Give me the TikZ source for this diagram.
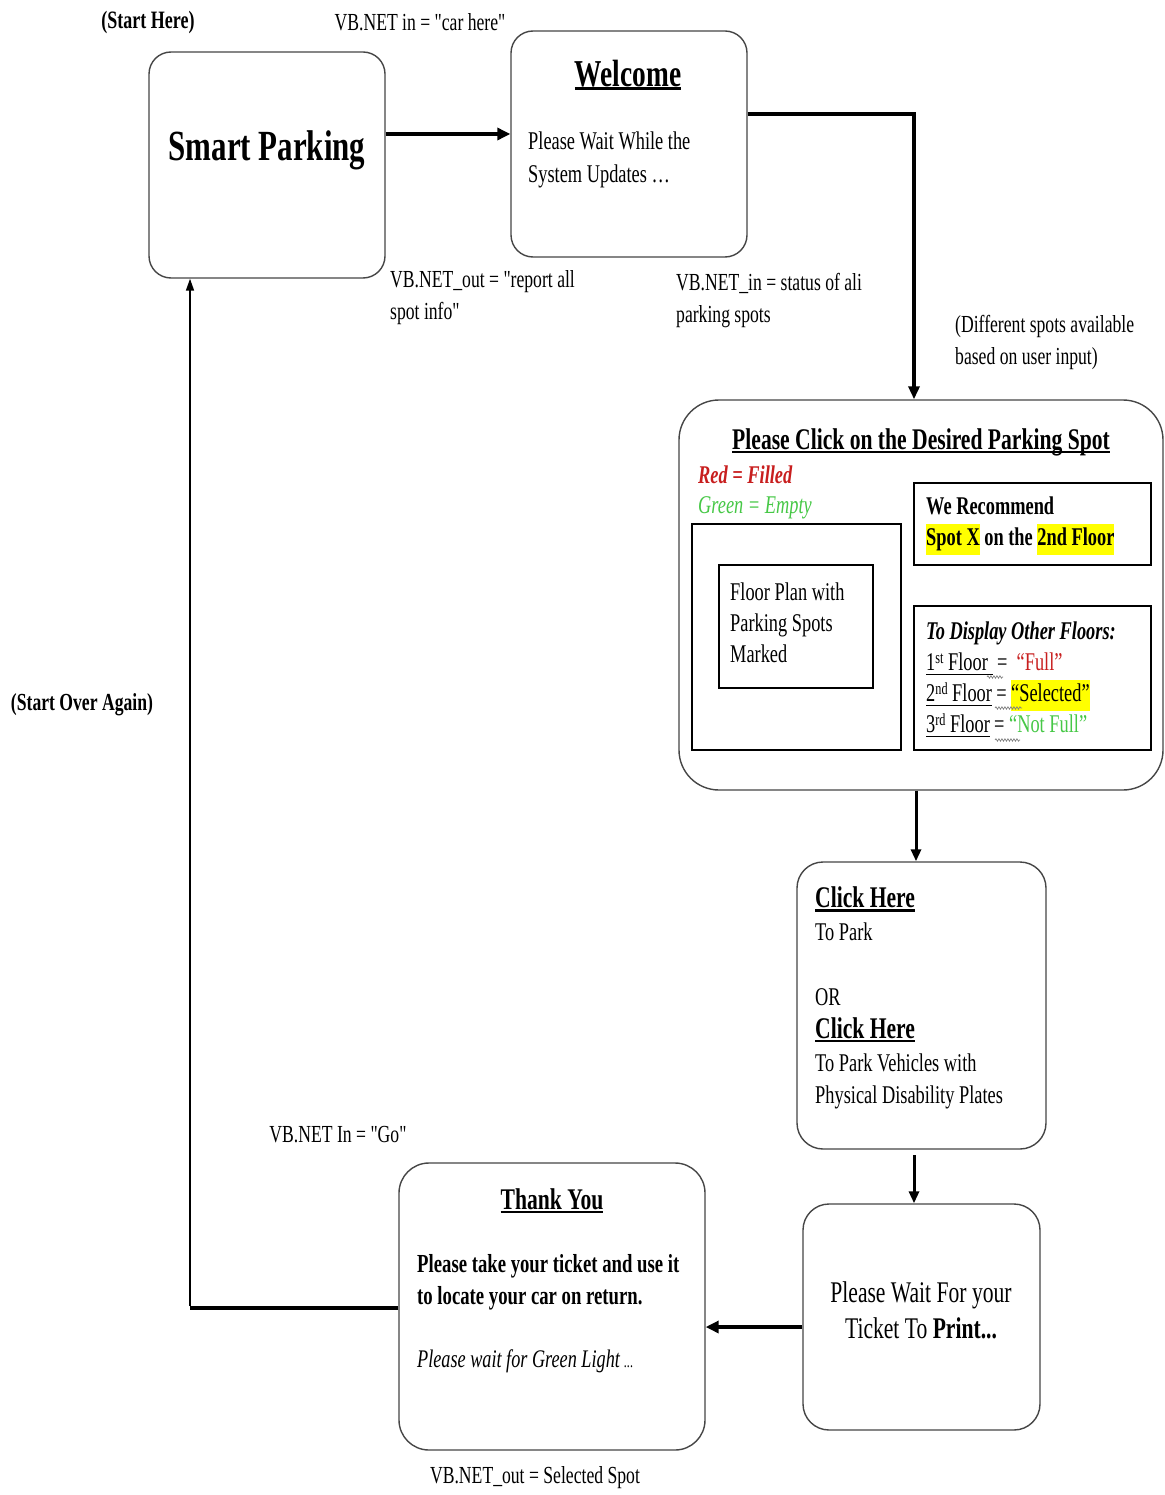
\documentclass[tikz,border=0pt]{standalone}
\usepackage{fontspec}
\setmainfont{Liberation Serif}[FakeStretch=0.72, Ligatures=TeXOff]
\usetikzlibrary{arrows.meta,decorations.pathmorphing}
\definecolor{boxgray}{RGB}{70,70,70}
\definecolor{redtxt}{RGB}{200,30,30}
\definecolor{greentxt}{RGB}{70,200,70}
\definecolor{hl}{RGB}{255,255,0}
\newcommand{\fs}[2]{\fontsize{#1}{#2}\selectfont}
\newcommand{\hlt}[1]{{\setlength{\fboxsep}{0pt}\colorbox{hl}{\strut #1}}}
\newcommand{\myul}[2][2pt]{\setbox0\hbox{#2}\rlap{\rule[-4pt]{\wd0}{#1}}\box0}
\begin{document}
\begin{tikzpicture}[x=1pt,y=-1pt,
  box/.style={draw=boxgray, line width=1.4pt, rounded corners=#1, inner sep=0pt},
  box/.default=22pt,
  rect/.style={draw=black, line width=1.2pt, inner sep=0pt},
  lbl/.style={font=\fs{24.5}{32}, align=left, inner sep=0pt},
  body/.style={font=\fs{25.5}{31}, align=left, inner sep=0pt},
  heavy/.style={line width=4pt, -{Triangle[length=13pt,width=12pt]}},
  medium/.style={line width=3pt, -{Triangle[length=12pt,width=10pt]}},
  light/.style={line width=1.6pt, -{Triangle[length=12pt,width=8pt]}},
  squiggle/.style={draw=gray, line width=0.7pt, decorate, decoration={snake, amplitude=1.2pt, segment length=3pt}}]
\useasboundingbox (0,0) rectangle (1164,1495);
\fill[white] (0,0) rectangle (1164,1495);

% boxes
\node[box] (sp) at (267,165) [minimum width=236pt, minimum height=226pt] {};
\node[box] (wel) at (629,144) [minimum width=236pt, minimum height=226pt] {};
\node[box=40pt] (big) at (921,595) [minimum width=484pt, minimum height=390pt] {};
\node[box=26pt] (click) at (921.5,1005.5) [minimum width=249pt, minimum height=287pt] {};
\node[box=26pt] (wait) at (921.5,1317) [minimum width=237pt, minimum height=226pt] {};
\node[box=30pt] (thank) at (552,1306.5) [minimum width=306pt, minimum height=287pt] {};

% inner rectangles
\node[rect] (plan) at (796.5,637) [minimum width=209pt, minimum height=226pt] {};
\node[rect] (fp) at (796,626.5) [minimum width=154pt, minimum height=123pt] {};
\node[rect] (rec) at (1032.5,524) [minimum width=237pt, minimum height=82pt] {};
\node[rect] (floors) at (1032.5,678) [minimum width=237pt, minimum height=144pt] {};

% texts
\node[lbl, font=\fs{25}{32}\bfseries] (starthere) at (148,22) {(Start Here)};
\node[lbl] (carhere) at (420,22) {VB.NET in = "car here"};
\node[inner sep=0pt, font=\fs{43}{50}\bfseries] (sptxt) at (267,150) {Smart Parking};
\node[inner sep=0pt, font=\fs{38}{44}\bfseries] (weltitle) at (628,75) {\myul[3pt]{Welcome}};
\node[body, anchor=west] (weltxt) at (528,160) {Please Wait While the\\[1.5pt]System Updates \dots};
\node[lbl, anchor=west] (report) at (390,298) {VB.NET\_out = "report all\\spot info"};
\node[lbl, anchor=west] (status) at (676,301) {VB.NET\_in = status of ali\\parking spots};
\node[lbl, anchor=west] (different) at (955,342) {(Different spots available\\based on user input)};

\node[inner sep=0pt, font=\fs{30}{36}\bfseries] (bigtitle) at (921,442) {\myul[2.5pt]{Please Click on the Desired Parking Spot}};
\node[body, anchor=west, text=redtxt, font=\fs{25.5}{31}\bfseries\itshape] (redf) at (698,475) {Red = Filled};
\node[body, anchor=west, text=greentxt, font=\fs{25.5}{31}\itshape] (greene) at (698,508) {Green = Empty};
\node[body, anchor=west] (fptxt) at (730,623) {Floor Plan with\\Parking Spots\\Marked};
\node[body, anchor=west, font=\fs{25.5}{31}\bfseries] (rectxt) at (926,525.5) {We Recommend\\\hlt{Spot X} on the \hlt{2nd Floor}};
\node[body, anchor=west] (floorstxt) at (926,679.5) {{\bfseries\itshape To Display Other Floors:}\\
\myul[1pt]{1{\fs{17}{17}\raisebox{7pt}{st}} Floor\ }\ =\ \ \textcolor{redtxt}{“Full”}\\
\myul[1pt]{2{\fs{17}{17}\raisebox{7pt}{nd}} Floor}\,=\ \hlt{“Selected”}\\
\myul[1pt]{3{\fs{17}{17}\raisebox{7pt}{rd}} Floor}\,=\ \textcolor{greentxt}{“Not Full”}};
\draw[squiggle] (987,677) -- (1003,677);
\draw[squiggle] (995,708) -- (1022,708);
\draw[squiggle] (995,740) -- (1020,740);

\node[body, anchor=west, font=\fs{25.5}{32.7}] (clicktxt) at (815,998) {{\fs{30}{32.7}\bfseries\myul[2.5pt]{Click Here}}\\To Park\\ \\OR\\{\fs{30}{32.7}\bfseries\myul[2.5pt]{Click Here}}\\To Park Vehicles with\\Physical Disability Plates};

\node[inner sep=0pt, align=center, font=\fs{30}{36}] (waittxt) at (921,1310) {Please Wait For your\\Ticket To \textbf{Print...}};

\node[inner sep=0pt, font=\fs{30}{36}\bfseries] (thanktitle) at (552,1201) {\myul[2.5pt]{Thank You}};
\node[body, anchor=west, font=\fs{26}{32}\bfseries] (thanktxt) at (417,1282) {Please take your ticket and use it\\to locate your car on return.};
\node[body, anchor=west, font=\fs{25.3}{31}\itshape] (greenlight) at (417,1361) {Please wait for Green Light\,{\fs{17}{18}...}};

\node[lbl] (go) at (338,1135) {VB.NET In = "Go"};
\node[lbl, font=\fs{24.5}{32}\bfseries] (startover) at (82,705) {(Start Over Again)};
\node[lbl] (selected) at (535,1478) {VB.NET\_out = Selected Spot};

% connectors
\draw[heavy] (sp.east |- 0,134) -- (wel.west |- 0,134);
\draw[line width=3.5pt, -{Triangle[length=13pt,width=11pt]}, rounded corners=0pt] (wel.east |- 0,114) -| (914,0 |- big.north);
\draw[medium] (916,0 |- big.south) -- (916,0 |- click.north);
\draw[medium] (914,1155) -- (914,0 |- wait.north);
\draw[heavy] (wait.west |- 0,1327) -- (thank.east |- 0,1327);
\coordinate (ret) at (190,1308);
\draw[line width=4pt] (thank.west |- 0,1308) -- (ret);
\draw[light] ([yshift=2pt]ret) -- (190,0 |- sp.south);
\end{tikzpicture}
\end{document}
